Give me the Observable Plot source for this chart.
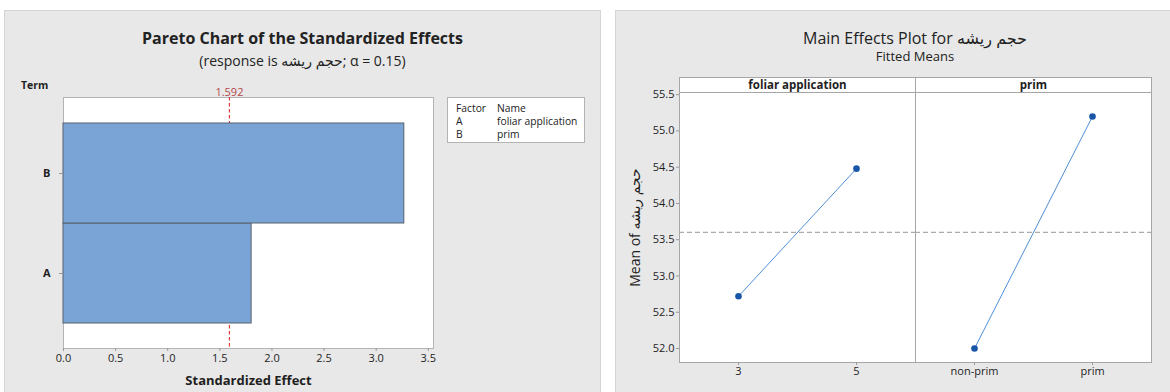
<!DOCTYPE html>
<html><head><meta charset="utf-8">
<script src="https://cdn.jsdelivr.net/npm/d3@7"></script>
<script src="https://cdn.jsdelivr.net/npm/@observablehq/plot@0.6"></script>
<style>
body{margin:0;width:1170px;height:392px;overflow:hidden;background:#fff;font-family:"Open Sans","DejaVu Sans",sans-serif;color:#222;position:relative}
.panel{position:absolute;background:#e8e8e8;border:1px solid #d4d4d4;box-sizing:border-box}
.abs{position:absolute;white-space:nowrap}
.ctr{text-align:center}
#leftSvg g[aria-label="x-axis label"] text{font-weight:bold;font-size:13px}
#rightSvg g[aria-label="y-axis label"] text{font-size:14px}
#legend{position:absolute;left:447px;top:97px;width:138px;height:46px;background:#fff;border:1px solid #b4b4b4;box-sizing:border-box;font-size:10.3px;line-height:13px;padding:4px 0 0 8px}
#legend span{display:inline-block;width:41px}
</style></head><body>
<div class="panel" style="left:4px;top:10px;width:597px;height:390px"></div>
<div class="panel" style="left:615px;top:10px;width:560px;height:390px"></div>

<div class="abs ctr" style="left:4px;width:597px;top:27px;font-size:16px;line-height:22px;font-weight:bold">Pareto Chart of the Standardized Effects</div>
<div class="abs ctr" style="left:4px;width:597px;top:51px;font-size:14px;line-height:20px">(response is حجم ریشه; α = 0.15)</div>
<div class="abs" style="left:21px;top:78px;font-size:10.5px;line-height:14px;font-weight:bold">Term</div>
<div id="legend"><div><span>Factor</span>Name</div><div><span>A</span>foliar application</div><div><span>B</span>prim</div></div>

<div class="abs ctr" style="left:615px;width:600px;top:28px;font-size:16px;line-height:20px">Main Effects Plot for حجم ریشه</div>
<div class="abs ctr" style="left:615px;width:600px;top:48px;font-size:13px;line-height:16px">Fitted Means</div>

<script>
// ---- Pareto chart data ----
const paretoTerms = ["A", "B"];
const paretoEffects = [1.805, 3.27];
const termOrder = ["B", "A"];
const criticalValue = 1.592;
const paretoTicks = [0, 0.5, 1, 1.5, 2, 2.5, 3, 3.5];

// ---- Main effects data ----
const factors = ["foliar application", "prim"];
const factorLevels = [["3", "5"], ["non-prim", "prim"]];
const fittedMeans = [[52.72, 54.48], [52.0, 55.2]];
const grandMean = 53.6;
const meanTicks = [52.0, 52.5, 53.0, 53.5, 54.0, 54.5, 55.0, 55.5];

const FONT = '"Open Sans","DejaVu Sans",sans-serif';

const pareto = paretoTerms.map((t, i) => ({term: t, effect: paretoEffects[i]}));

const left = Plot.plot({
  width: 597, height: 326,
  marginLeft: 59, marginRight: 168, marginTop: 31, marginBottom: 44,
  style: {background: "transparent", fontFamily: FONT, fontSize: "11px", color: "#1e1e1e", overflow: "visible"},
  x: {domain: [0, 3.55]},
  y: {domain: termOrder, paddingInner: 0, paddingOuter: 0.25},
  marks: [
    Plot.frame({fill: "white", stroke: "#b4b4b4"}),
    Plot.ruleX([criticalValue], {stroke: "#e03a3a", strokeDasharray: "3.5,2.5", strokeWidth: 1.2}),
    Plot.barX(pareto, {x: "effect", y: "term", fill: "#7ba4d6", stroke: "#56606c", strokeWidth: 1}),
    Plot.text([criticalValue], {x: d => d, text: d => d.toFixed(3), frameAnchor: "top", dy: -9, fill: "#b5474a", fontSize: 11}),
    Plot.axisX({ticks: paretoTicks, tickFormat: d3.format(".1f"), tickSize: 3, tickPadding: 3, stroke: "#999",
      label: "Standardized Effect", labelAnchor: "center", labelOffset: 36, labelArrow: "none"}),
    Plot.axisY({tickSize: 4, tickPadding: 9, label: null, fontWeight: "bold", stroke: "#999"})
  ]
});
left.id = "leftSvg";
Object.assign(left.style, {position: "absolute", left: "4px", top: "66px"});
document.body.appendChild(left);

const rows = factors.flatMap((f, i) => factorLevels[i].map((l, j) => ({factor: f, level: l, pos: j, mean: fittedMeans[i][j]})));

const right = Plot.plot({
  width: 555, height: 322,
  marginLeft: 64, marginRight: 19, marginTop: 22, marginBottom: 30,
  style: {background: "transparent", fontFamily: FONT, fontSize: "11px", color: "#1e1e1e", overflow: "visible"},
  fx: {domain: factors, padding: 0, label: null},
  x: {type: "point", domain: [0, 1], padding: 0.5},
  y: {domain: [51.807, 55.53]},
  marks: [
    Plot.frame({insetTop: -15, fill: "white", stroke: "#a6a6a6"}),
    Plot.frame({stroke: "#a6a6a6"}),
    Plot.ruleY([grandMean], {stroke: "#ababab", strokeDasharray: "5,3", strokeWidth: 1.3}),
    Plot.line(rows, {fx: "factor", x: "pos", y: "mean", stroke: "#4f8fd6", strokeWidth: 1}),
    Plot.dot(rows, {fx: "factor", x: "pos", y: "mean", fill: "#1a56a8", r: 3.3}),
    Plot.axisFx({anchor: "top", tickSize: 0, tickPadding: 4, label: null, fontWeight: "bold", fontSize: 11.5}),
    Plot.axisX({ticks: [0, 1], tickFormat: () => "", tickSize: 3, label: null, stroke: "#999"}),
    Plot.text(rows, {fx: "factor", x: "pos", text: "level", frameAnchor: "bottom", dy: 12, fontSize: 11, fill: "#1e1e1e"}),
    Plot.axisY({ticks: meanTicks, tickFormat: d3.format(".1f"), tickSize: 3, tickPadding: 2, stroke: "#999",
      label: "Mean of حجم ریشه", labelAnchor: "center", labelOffset: 49, labelArrow: "none"})
  ]
});
right.id = "rightSvg";
Object.assign(right.style, {position: "absolute", left: "615px", top: "70px"});
document.body.appendChild(right);
</script>
</body></html>
